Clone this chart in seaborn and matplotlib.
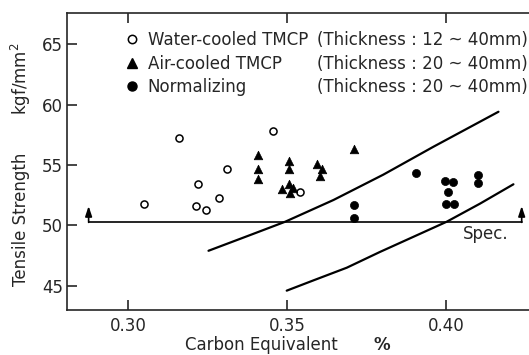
import matplotlib
matplotlib.use("Agg")
import matplotlib.pyplot as plt
from matplotlib.lines import Line2D
import seaborn as sns
import pandas as pd

# Water-cooled TMCP (open circles)
water_ce = [0.305, 0.316, 0.3215, 0.322, 0.3245, 0.3285, 0.331, 0.3457, 0.354]
water_ts = [51.8, 57.2, 51.6, 53.4, 51.3, 52.3, 54.7, 57.8, 52.8]

# Air-cooled TMCP (triangles)
air_ce = [0.341, 0.341, 0.341, 0.3485, 0.3505, 0.3505, 0.3505, 0.351, 0.352, 0.3595, 0.361, 0.3605, 0.371]
air_ts = [55.8, 54.7, 53.8, 53.0, 55.3, 54.7, 53.4, 52.7, 53.1, 55.1, 54.7, 54.1, 56.3]

# Normalizing (filled circles)
norm_ce = [0.371, 0.371, 0.3905, 0.3997, 0.4023, 0.4005, 0.400, 0.4025, 0.410, 0.410]
norm_ts = [51.7, 50.6, 54.3, 53.7, 53.6, 52.8, 51.8, 51.8, 54.2, 53.5]

# the two band curves
upper_ce = [0.3253, 0.3384, 0.3494, 0.3646, 0.3803, 0.396, 0.4165]
upper_ts = [47.9, 49.2, 50.3, 52.1, 54.2, 56.5, 59.4]
lower_ce = [0.3499, 0.3583, 0.3688, 0.3792, 0.3897, 0.4002, 0.4107, 0.4212]
lower_ts = [44.6, 45.45, 46.5, 47.8, 49.05, 50.3, 51.8, 53.4]

# spec line
spec_ts = 50.25
spec_ce = [0.2876, 0.4238]
spec_arrow_top = 51.6

group_names = ["Water-cooled TMCP", "Air-cooled TMCP", "Normalizing"]
thickness = ["(Thickness : 12 ~ 40mm)", "(Thickness : 20 ~ 40mm)", "(Thickness : 20 ~ 40mm)"]

x_ticks = [0.30, 0.35, 0.40]
x_ticklabels = ["0.30", "0.35", "0.40"]
y_ticks = [45, 50, 55, 60, 65]

sns.set_style("ticks")
plt.rcParams['font.family'] = ['DejaVu Sans']
plt.rcParams['font.size'] = 12

W, H = 529, 355
fig = plt.figure(figsize=(W / 100, H / 100), dpi=100)
ax = fig.add_axes([67 / W, 1 - 310 / H, (W - 67) / W, (310 - 13) / H])

df_water = pd.DataFrame({"ce": water_ce, "ts": water_ts})
df_air = pd.DataFrame({"ce": air_ce, "ts": air_ts})
df_norm = pd.DataFrame({"ce": norm_ce, "ts": norm_ts})

sns.scatterplot(data=df_water, x="ce", y="ts", marker="o", s=26, facecolor="white",
                edgecolor="black", linewidth=1.1, ax=ax, zorder=3)
sns.scatterplot(data=df_air, x="ce", y="ts", marker="^", s=38, color="black",
                edgecolor="black", linewidth=0.5, ax=ax, zorder=3)
sns.scatterplot(data=df_norm, x="ce", y="ts", marker="o", s=34, color="black",
                edgecolor="black", linewidth=0.5, ax=ax, zorder=3)

# curves
sns.lineplot(x=upper_ce, y=upper_ts, color="black", linewidth=1.6, ax=ax, sort=False)
sns.lineplot(x=lower_ce, y=lower_ts, color="black", linewidth=1.6, ax=ax, sort=False)

# spec line with arrows at both ends
ax.plot(spec_ce, [spec_ts, spec_ts], color="black", linewidth=1.2)
for xc in spec_ce:
    ax.annotate("", xy=(xc, spec_arrow_top), xytext=(xc, spec_ts),
                arrowprops=dict(arrowstyle="-|>,head_length=0.6,head_width=0.2",
                                color="black", lw=1.2, mutation_scale=10,
                                shrinkA=0, shrinkB=0))
ax.text(0.4053, 49.28, "Spec.", ha="left", va="center", fontsize=12)

ax.set_xlim(0.2808, 0.4261)
ax.set_ylim(43.0, 67.57)
ax.set_xticks(x_ticks)
ax.set_xticklabels(x_ticklabels)
ax.set_yticks(y_ticks)
ax.set_xlabel("")
ax.set_ylabel("")
ax.spines['right'].set_visible(False)
for s in ['left', 'top', 'bottom']:
    ax.spines[s].set_linewidth(1.2)
ax.tick_params(axis='x', direction='in', top=True, length=7, width=1.2, pad=5, labelsize=12)
ax.tick_params(axis='y', direction='in', right=False, length=7, width=1.2, pad=3, labelsize=12)

# legend: markers + names in col 1, thickness in col 2
handles = [
    Line2D([], [], marker="o", ls="none", mfc="white", mec="black", mew=1.1, ms=6),
    Line2D([], [], marker="^", ls="none", color="black", ms=6.5),
    Line2D([], [], marker="o", ls="none", color="black", ms=6.5),
    Line2D([], [], ls="none"),
    Line2D([], [], ls="none"),
    Line2D([], [], ls="none"),
]
ax.legend(handles, group_names + thickness, ncol=2, frameon=False, loc="upper left",
          bbox_to_anchor=(123.4 / W, 1 - 31 / H), bbox_transform=fig.transFigure,
          borderpad=0, borderaxespad=0, handlelength=1.0, handletextpad=0.46,
          columnspacing=-0.9, labelspacing=0.34, fontsize=12)

# axis titles
fig.text(21 / W, 1 - 219 / H, "Tensile Strength", rotation=90, ha="center", va="center", fontsize=12)
fig.text(21 / W, 1 - 79 / H, "kgf/mm$^2$", rotation=90, ha="center", va="center", fontsize=12)
fig.text(185 / W, 1 - 354.5 / H, "Carbon Equivalent", ha="left", va="bottom", fontsize=12)
fig.text(373 / W, 1 - 354.5 / H, "%", ha="left", va="bottom", fontsize=12, fontweight="bold")

fig.savefig("out.png", dpi=100)
